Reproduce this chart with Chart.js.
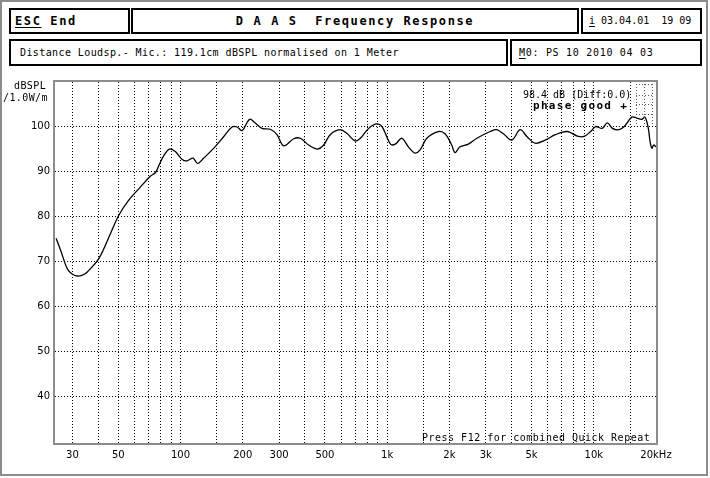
<!DOCTYPE html>
<html>
<head>
<meta charset="utf-8">
<title>DAAS Frequency Response</title>
<script src="https://cdn.jsdelivr.net/npm/chart.js@4.4.1/dist/chart.umd.min.js"></script>
<style>
body { margin: 0; background: #fff; }
#page { position: relative; width: 710px; height: 478px; overflow: hidden; background: #fff; }
#frame { position: absolute; left: 0; top: 0; width: 708px; height: 476px; box-sizing: border-box; border: 2px solid #8c8c8c; }
.box { position: absolute; box-sizing: border-box; border: 2px solid #000; color: #000;
       font-family: "DejaVu Sans Mono", monospace; font-size: 10px; letter-spacing: 0.4px; white-space: pre; }
.bold { font-weight: bold; font-size: 12px; letter-spacing: 1.6px; }
.row1 { top: 8px; height: 26px; line-height: 22px; }
.row2 { top: 39px; height: 27px; line-height: 23px; }
u { text-underline-offset: 2px; }
#chart { position: absolute; left: 0; top: 0; }
</style>
</head>
<body>
<div id="page">
  <div id="frame"></div>
  <div class="box row1 bold" style="left:9px; width:121px; padding-left:4px;"><u>ESC</u> End</div>
  <div class="box row1 bold" style="left:131px; width:448px; text-align:center;">D A A S  Frequency Response</div>
  <div class="box row1" style="left:581px; width:121px; padding-left:6px; letter-spacing:0px;"><u>i</u> 03.04.01  19 09</div>
  <div class="box row2" style="left:9px; width:499px; padding-left:9px;">Distance Loudsp.- Mic.: 119.1cm dBSPL normalised on 1 Meter</div>
  <div class="box row2" style="left:510px; width:192px; padding-left:7px; letter-spacing:0.7px;"><u>M</u>0: PS 10 2010 04 03</div>
  <canvas id="chart" width="710" height="478"></canvas>
</div>
<script>
const freqHz = [25, 26.3, 28.4, 30, 31.7, 33.5, 35.4, 40.3, 45.9, 50.3, 56.3, 64.1, 71.6, 75.7, 78.5, 83.1,
    88.5, 94.6, 101.9, 107.7, 115, 121, 129.6, 145, 162, 177.6, 187.8, 198.6, 216, 230, 248, 272,
    293, 316, 353, 380, 417, 460, 493, 530, 592, 638, 700, 742, 814, 886, 944, 1038,
    1095, 1178, 1267, 1365, 1444, 1555, 1767, 1906, 2052, 2130, 2253, 2473, 2716, 3153, 3392, 3653,
    4012, 4400, 4745, 5203, 5823, 6519, 7435, 8320, 8960, 9655, 10200, 10990, 11630, 12310, 13250, 14040,
    15270, 16130, 17050, 17700, 18360, 18720, 19110, 19470, 20000];
const splDb = [75.2, 72.5, 68.3, 67.2, 66.8, 67.0, 67.7, 70.7, 76.3, 80.3, 83.7, 86.6, 89.0, 89.8, 91.3, 93.6,
    95.0, 94.4, 92.7, 92.4, 93.0, 91.8, 93.0, 95.2, 97.8, 99.9, 99.9, 99.1, 101.6, 100.8, 99.6, 99.4,
    98.2, 95.7, 97.3, 97.4, 95.9, 95.0, 95.9, 98.2, 99.3, 98.5, 96.8, 97.4, 99.6, 100.6, 100.0, 96.1,
    96.1, 97.4, 95.5, 94.1, 94.8, 97.4, 98.9, 98.4, 95.9, 94.2, 95.5, 96.1, 97.4, 98.9, 99.3, 98.4,
    97.0, 99.3, 97.8, 96.3, 97.0, 98.2, 98.9, 97.9, 97.8, 98.9, 100.0, 99.6, 100.8, 99.6, 99.3, 100.0,
    102.1, 101.9, 101.6, 102.1, 99.6, 96.7, 95.2, 95.9, 95.5];

const yTicks = [40, 50, 60, 70, 80, 90, 100];
const xGridHz = [30, 40, 50, 60, 70, 80, 90, 100, 150, 200, 300, 400, 500, 600, 700, 800, 900,
    1000, 1500, 2000, 3000, 4000, 5000, 6000, 7000, 8000, 9000, 10000, 15000, 20000];
const xLabelHz = [30, 50, 100, 200, 300, 500, 1000, 2000, 3000, 5000, 10000, 20000];
const xLabelText = ['30', '50', '100', '200', '300', '500', '1k', '2k', '3k', '5k', '10k', '20kHz'];

const mono = '"DejaVu Sans Mono", monospace';

function dotted(ctx, x1, y1, x2, y2) {
    ctx.beginPath();
    ctx.moveTo(x1, y1);
    ctx.lineTo(x2, y2);
    ctx.stroke();
}

const extras = {
    id: 'extras',
    afterDraw(chart) {
        const ctx = chart.ctx;
        const a = chart.chartArea;
        ctx.save();
        // grey stippled frame round the plot
        ctx.strokeStyle = '#8c8c8c';
        ctx.lineWidth = 2;
        ctx.strokeRect(a.left - 1, a.top - 1, a.right - a.left + 2, a.bottom - a.top + 2);

        ctx.fillStyle = '#000';
        ctx.textBaseline = 'middle';
        ctx.font = '10px ' + mono;
        ctx.letterSpacing = '0.4px';
        ctx.fillText('dBSPL', 14, 86);
        ctx.fillText('/1.0W/m', 3, 98);

        ctx.letterSpacing = '0px';
        ctx.fillText('98.4 dB (Diff:0.0)', 523, 95);
        ctx.font = 'bold 11px ' + mono;
        ctx.letterSpacing = '1.3px';
        ctx.fillText('phase good +', 533, 106);

        ctx.font = '10px ' + mono;
        ctx.letterSpacing = '0.5px';
        ctx.textBaseline = 'alphabetic';
        ctx.fillText('Press F12 for combined Quick Repeat', 422, 441);

        // little stippled marker, top right corner
        ctx.strokeStyle = '#555';
        ctx.lineWidth = 1;
        ctx.setLineDash([1, 2]);
        [84.5, 95.5, 104.5, 114.5].forEach(y => dotted(ctx, 636, y, 653, y));
        [636.5, 644.5, 652.5].forEach(x => dotted(ctx, x, 84, x, 125));
        ctx.restore();
    }
};

new Chart(document.getElementById('chart'), {
    type: 'line',
    data: {
        datasets: [{
            data: freqHz.map((f, i) => ({ x: f, y: splDb[i] })),
            borderColor: '#000',
            borderWidth: 1.3,
            pointRadius: 0,
            tension: 0.35,
            fill: false
        }]
    },
    options: {
        responsive: false,
        animation: false,
        devicePixelRatio: 1,
        layout: { padding: { left: 0, top: 82, right: 54, bottom: 0 } },
        plugins: { legend: { display: false }, tooltip: { enabled: false } },
        scales: {
            x: {
                type: 'logarithmic',
                min: 24.7,
                max: 20000,
                afterBuildTicks: s => { s.ticks = xGridHz.map(v => ({ value: v })); },
                afterFit: s => { s.height = 35; },
                grid: { color: '#000', lineWidth: 1, drawTicks: false },
                border: { display: false, dash: [1, 2] },
                ticks: {
                    autoSkip: false,
                    maxRotation: 0,
                    padding: 6,
                    color: '#000',
                    font: { family: 'DejaVu Sans', size: 10 },
                    callback: v => {
                        const i = xLabelHz.indexOf(v);
                        return i < 0 ? '' : xLabelText[i];
                    }
                }
            },
            y: {
                min: 29.7,
                max: 109.9,
                afterBuildTicks: s => { s.ticks = yTicks.map(v => ({ value: v })); },
                afterFit: s => { s.width = 55; },
                grid: { color: '#000', lineWidth: 1, drawTicks: false },
                border: { display: false, dash: [1, 2] },
                ticks: {
                    padding: 5,
                    color: '#000',
                    font: { family: 'DejaVu Sans', size: 10 }
                }
            }
        }
    },
    plugins: [extras]
});
</script>
</body>
</html>
